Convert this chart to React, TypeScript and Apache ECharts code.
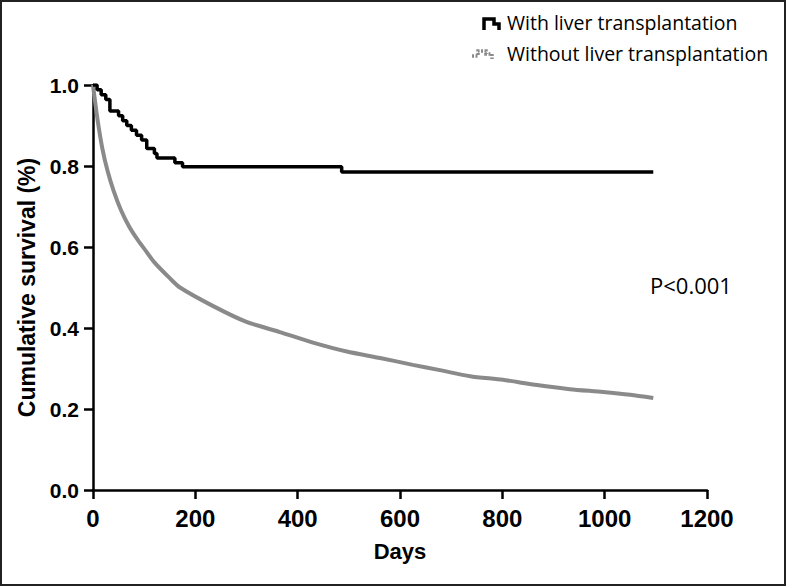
import React, { useEffect, useRef } from "react";
import * as echarts from "echarts";

const withDays = [0, 8, 16, 25, 33, 50, 58, 66, 75, 85, 95, 105, 120, 125, 160, 175, 486, 1095];
const withSurv = [1.0, 0.988, 0.976, 0.964, 0.936, 0.924, 0.912, 0.9, 0.888, 0.876, 0.864, 0.843, 0.831, 0.82, 0.808, 0.798, 0.785, 0.785];

const withoutDays = [0, 5, 10, 18, 28, 40, 55, 70, 85, 100, 120, 150, 170, 235, 300, 365, 430, 496, 561, 625, 678, 737, 801, 868, 932, 997, 1050, 1095];
const withoutSurv = [1.0, 0.95, 0.905, 0.845, 0.79, 0.74, 0.69, 0.652, 0.622, 0.596, 0.562, 0.523, 0.5, 0.454, 0.415, 0.39, 0.364, 0.342, 0.326, 0.309, 0.296, 0.281, 0.272, 0.259, 0.249, 0.242, 0.235, 0.227];

const xTicks = [0, 200, 400, 600, 800, 1000, 1200];
const seriesNames = ["With liver transplantation", "Without liver transplantation"];

export default function App() {
  const ref = useRef<HTMLDivElement>(null);
  useEffect(() => {
    document.body.style.margin = "0";
    const chart = echarts.init(ref.current!, null, { renderer: "svg" });
    chart.setOption({
      animation: false,
      backgroundColor: "#fff",
      grid: { left: 93, right: 79, top: 85, bottom: 96, containLabel: false },
      xAxis: {
        type: "value",
        min: xTicks[0],
        max: xTicks[xTicks.length - 1],
        interval: 200,
        name: "Days",
        nameLocation: "middle",
        nameGap: 50,
        nameTextStyle: { color: "#000", fontFamily: "Liberation Sans", fontWeight: "bold", fontSize: 22 },
        axisLine: { onZero: false, lineStyle: { color: "#000", width: 2.5 } },
        axisTick: { length: 9, lineStyle: { color: "#000", width: 2.5 } },
        axisLabel: {
          color: "#000",
          fontFamily: "Liberation Sans Narrow, Liberation Sans",
          fontWeight: "bold",
          fontSize: 24,
          margin: 16,
          formatter: (v: number) => String(v),
        },
        splitLine: { show: false },
      },
      yAxis: {
        type: "value",
        min: 0,
        max: 1,
        interval: 0.2,
        name: "Cumulative survival (%)",
        nameLocation: "middle",
        nameGap: 54,
        nameTextStyle: { color: "#000", fontFamily: "Liberation Sans", fontWeight: "bold", fontSize: 23 },
        axisLine: { show: true, lineStyle: { color: "#000", width: 2.5 } },
        axisTick: { show: true, length: 9, lineStyle: { color: "#000", width: 2.5 } },
        axisLabel: {
          color: "#000",
          fontFamily: "Liberation Sans",
          fontWeight: "bold",
          fontSize: 21,
          margin: 14,
          formatter: (v: number) => v.toFixed(1),
        },
        splitLine: { show: false },
      },
      series: [
        {
          name: seriesNames[1],
          type: "line",
          data: withoutDays.map((d, i) => [d, withoutSurv[i]]),
          showSymbol: false,
          smooth: 0.25,
          lineStyle: { color: "#8a8a8a", width: 4 },
          z: 2,
        },
        {
          name: seriesNames[0],
          type: "line",
          step: "end",
          data: withDays.map((d, i) => [d, withSurv[i]]),
          showSymbol: false,
          lineStyle: { color: "#000", width: 3.5 },
          z: 3,
        },
      ],
      graphic: [
        { type: "rect", shape: { x: 1, y: 1, width: 784, height: 584 }, style: { fill: "none", stroke: "#222", lineWidth: 2 }, silent: true },
        { type: "polyline", shape: { points: [[484, 30], [484, 19], [494, 19], [494, 24], [499, 24], [499, 30]] }, style: { fill: "none", stroke: "#000", lineWidth: 3.5 } },
        { type: "polyline", shape: { points: [[472, 56], [478, 56], [478, 51], [486, 51], [486, 54], [492, 54], [492, 59]] }, style: { fill: "none", stroke: "#8a8a8a", lineWidth: 3.5, lineDash: [2, 1.5] } },
        { type: "text", x: 507, y: 22, style: { text: seriesNames[0], fill: "#000", font: "19.5px 'Open Sans'", verticalAlign: "middle" } },
        { type: "text", x: 507, y: 53, style: { text: seriesNames[1], fill: "#000", font: "19.5px 'Open Sans'", verticalAlign: "middle" } },
        { type: "text", x: 650, y: 285, style: { text: "P<0.001", fill: "#000", font: "22px 'Open Sans'", verticalAlign: "middle" } },
      ],
    });
    return () => chart.dispose();
  }, []);
  return <div ref={ref} style={{ width: 786, height: 586 }} />;
}
